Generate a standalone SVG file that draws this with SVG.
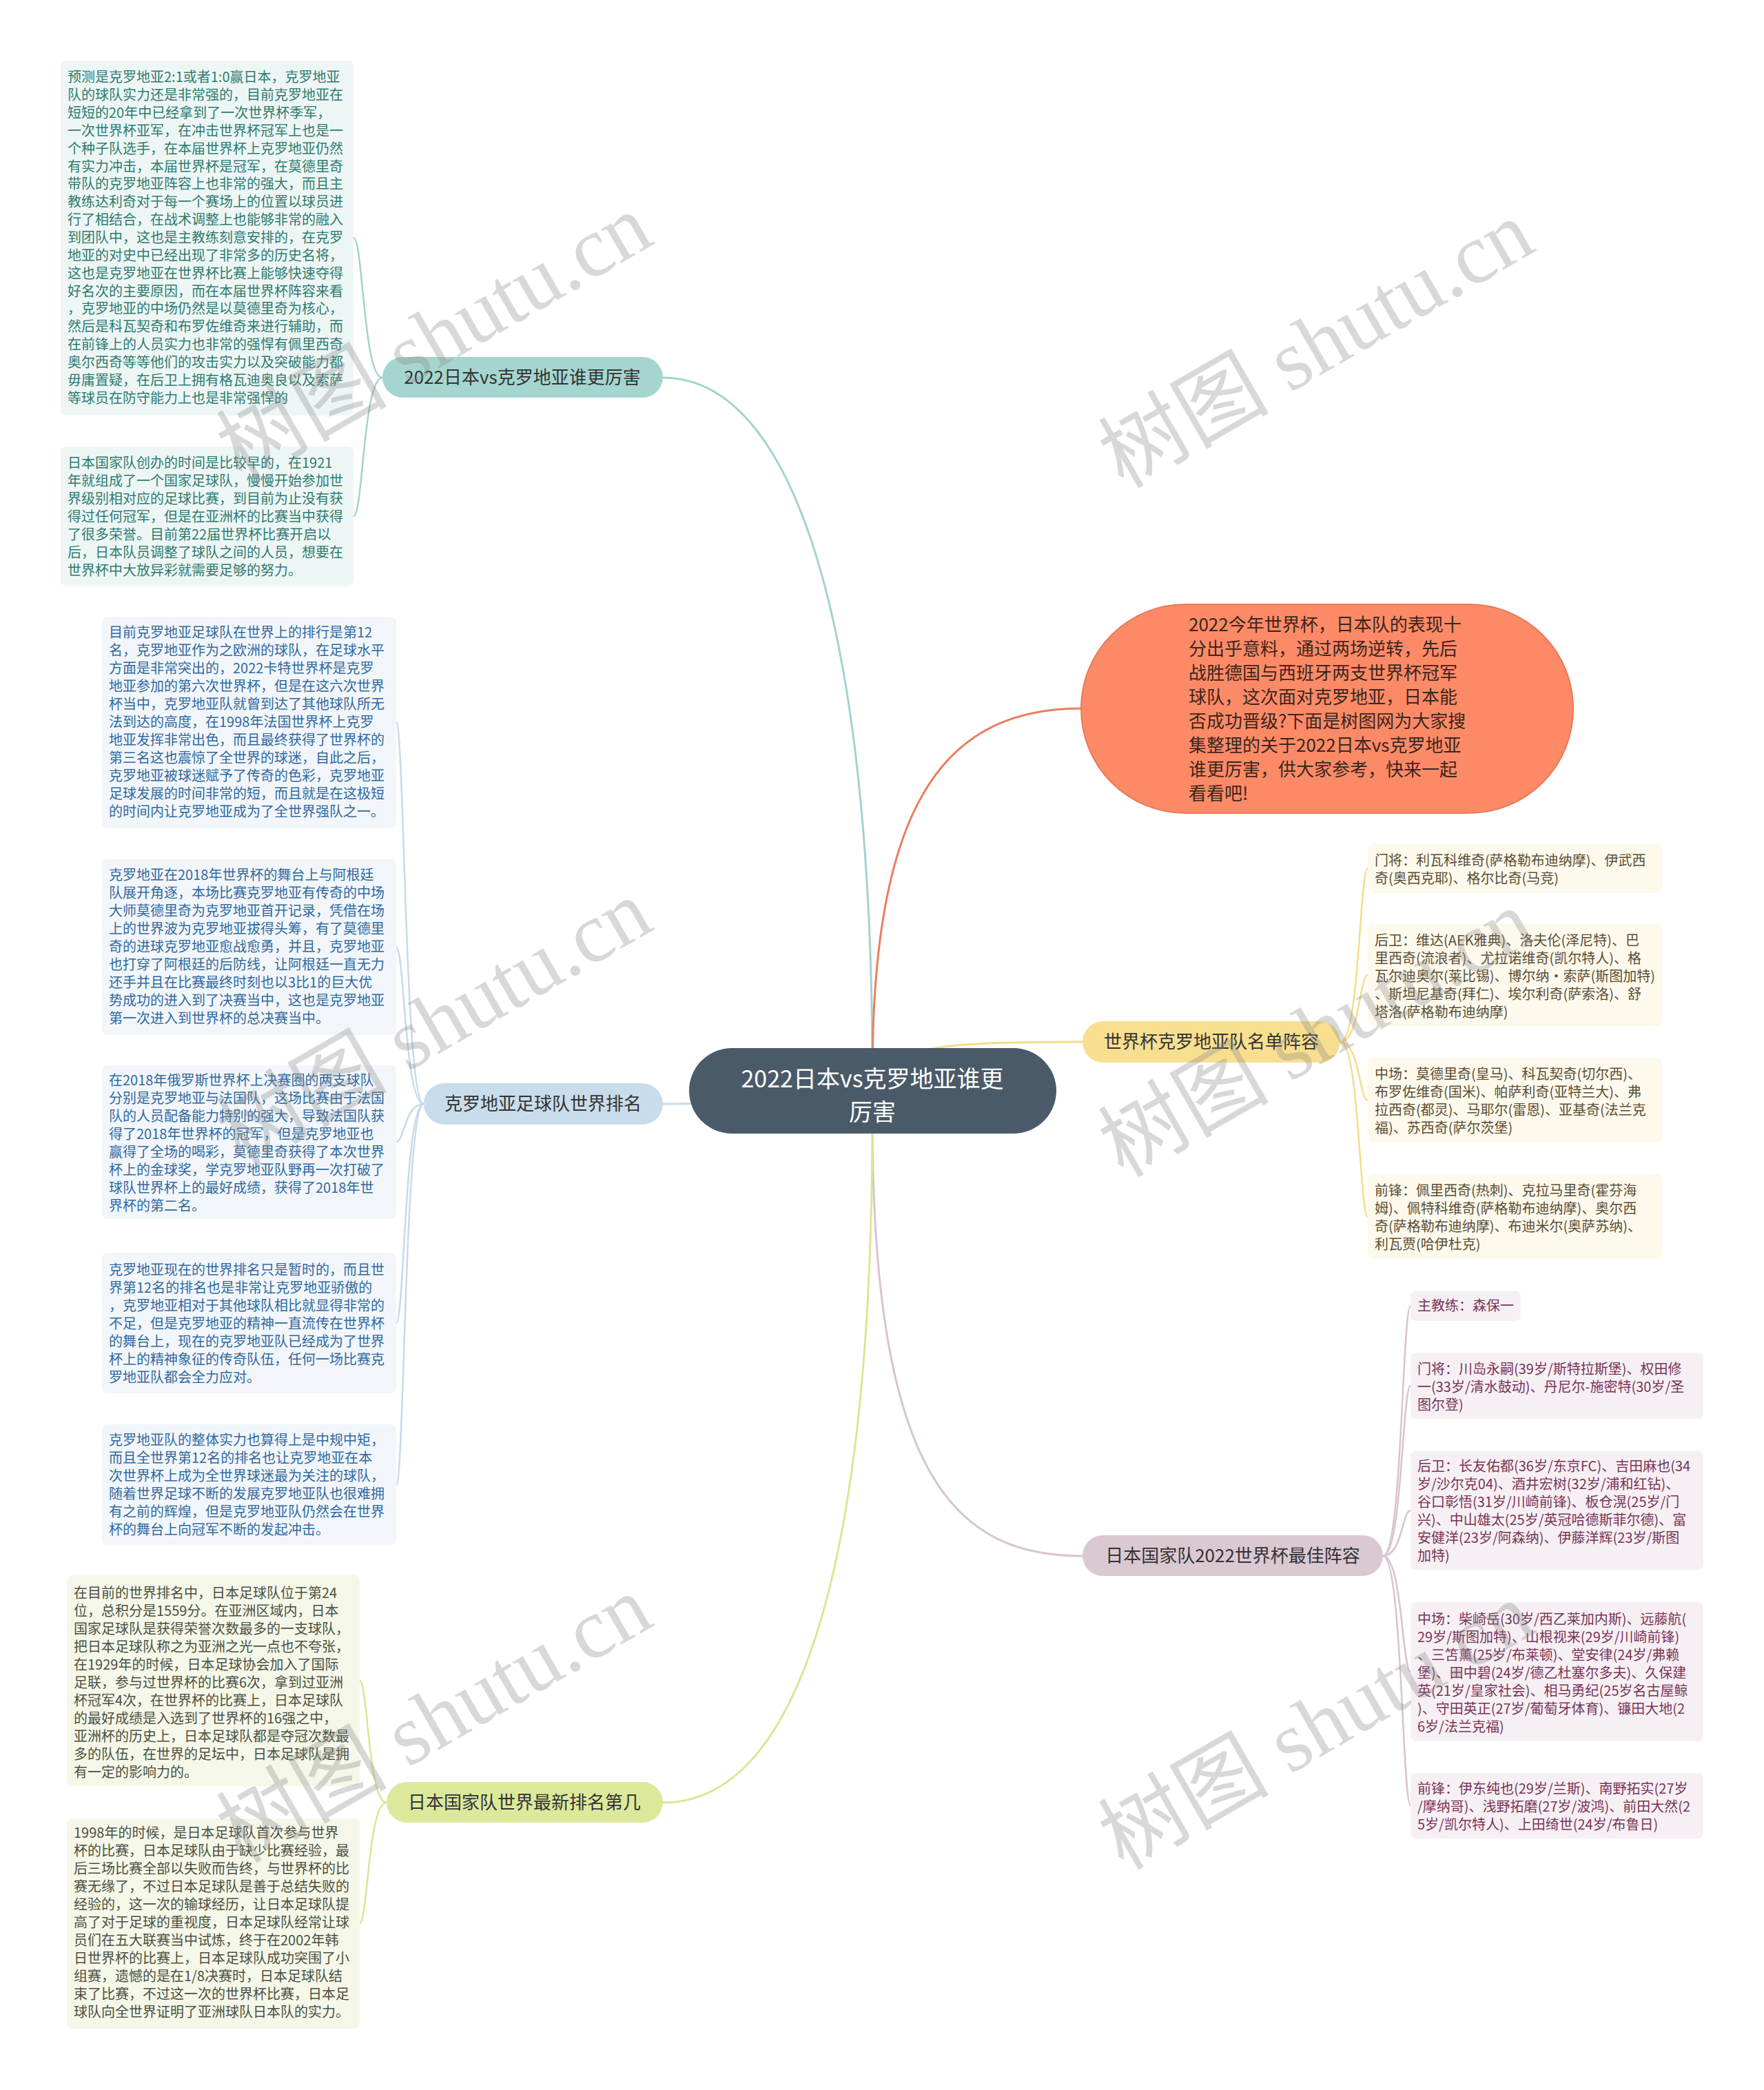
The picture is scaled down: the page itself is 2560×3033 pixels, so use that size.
<svg xmlns="http://www.w3.org/2000/svg" width="2560" height="3033" viewBox="0 0 2560 3033">
<style>
text{font-family:"Noto Sans CJK SC","Noto Sans",sans-serif;}
.lf{font-size:20px;}
.br{font-size:26px;fill:#333333;}
.c{fill:none;stroke-width:3;}
.lc{fill:none;stroke-width:2.5;}
.wm{font-size:124px;fill:#8a8a8a;opacity:0.33;font-family:"Liberation Serif","Noto Sans CJK SC",serif;}
</style>
<rect width="2560" height="3033" fill="#ffffff"/>
<g id="connectors">
<path class="c" stroke="#a3d3cd" d="M1266 1560 C1266 900,1150 548,962 548"/>
<path class="c" stroke="#ea7d5e" d="M1266 1560 C1266 1150,1380 1028,1571 1028"/>
<path class="c" stroke="#f5dc8c" d="M1266 1560 C1300 1516,1400 1512,1571 1512"/>
<path class="c" stroke="#c6daeb" d="M1266 1600 C1100 1600,1100 1602,962 1602"/>
<path class="c" stroke="#d7c4cf" d="M1266 1620 C1266 2150,1390 2258,1571 2258"/>
<path class="c" stroke="#d9e795" d="M1266 1620 C1266 2300,1150 2616,962 2616"/>
<path class="lc" stroke="#a3d3cd" d="M555 548 C527 548,527 345,513 345"/>
<path class="lc" stroke="#a3d3cd" d="M555 548 C527 548,527 749,513 749"/>
<path class="lc" stroke="#c6daeb" d="M615 1602 C587 1602,587 1048,575 1048"/>
<path class="lc" stroke="#c6daeb" d="M615 1602 C587 1602,587 1374,575 1374"/>
<path class="lc" stroke="#c6daeb" d="M615 1602 C587 1602,587 1657,575 1657"/>
<path class="lc" stroke="#c6daeb" d="M615 1602 C587 1602,587 1920,575 1920"/>
<path class="lc" stroke="#c6daeb" d="M615 1602 C587 1602,587 2155,575 2155"/>
<path class="lc" stroke="#d9e795" d="M561 2616 C534 2616,534 2439,522 2439"/>
<path class="lc" stroke="#d9e795" d="M561 2616 C534 2616,534 2791,522 2791"/>
<path class="lc" stroke="#f5dc8c" d="M1945 1512 C1973 1512,1973 1260,1985 1260"/>
<path class="lc" stroke="#f5dc8c" d="M1945 1512 C1973 1512,1973 1415,1985 1415"/>
<path class="lc" stroke="#f5dc8c" d="M1945 1512 C1973 1512,1973 1597,1985 1597"/>
<path class="lc" stroke="#f5dc8c" d="M1945 1512 C1973 1512,1973 1766,1985 1766"/>
<path class="lc" stroke="#d7c4cf" d="M2007 2258 C2035 2258,2035 1895,2047 1895"/>
<path class="lc" stroke="#d7c4cf" d="M2007 2258 C2035 2258,2035 2011,2047 2011"/>
<path class="lc" stroke="#d7c4cf" d="M2007 2258 C2035 2258,2035 2192,2047 2192"/>
<path class="lc" stroke="#d7c4cf" d="M2007 2258 C2035 2258,2035 2426,2047 2426"/>
<path class="lc" stroke="#d7c4cf" d="M2007 2258 C2035 2258,2035 2620,2047 2620"/>
</g>

<g id="root">
<rect x="1000" y="1521" width="533" height="124" rx="62" fill="#4a5a68"/>
<text x="1266" y="1578" font-size="34" fill="#ffffff" text-anchor="middle">2022日本vs克罗地亚谁更</text>
<text x="1266" y="1626" font-size="34" fill="#ffffff" text-anchor="middle">厉害</text>
</g>

<g id="intro">
<rect x="1569" y="877" width="714" height="303" rx="151" fill="#fc8a67" stroke="#e9795a" stroke-width="2"/>
<text font-size="26" fill="#3a261c">
<tspan x="1725" y="916">2022今年世界杯，日本队的表现十</tspan>
<tspan x="1725" y="951">分出乎意料，通过两场逆转，先后</tspan>
<tspan x="1725" y="986">战胜德国与西班牙两支世界杯冠军</tspan>
<tspan x="1725" y="1021">球队，这次面对克罗地亚，日本能</tspan>
<tspan x="1725" y="1056">否成功晋级?下面是树图网为大家搜</tspan>
<tspan x="1725" y="1091">集整理的关于2022日本vs克罗地亚</tspan>
<tspan x="1725" y="1126">谁更厉害，供大家参考，快来一起</tspan>
<tspan x="1725" y="1161">看看吧!</tspan>
</text>
</g>

<g id="b-teal">
<rect x="555" y="518" width="407" height="59" rx="29.5" fill="#a5d5cf"/>
<text class="br" x="758" y="557" text-anchor="middle">2022日本vs克罗地亚谁更厉害</text>
</g>
<g id="b-blue">
<rect x="615" y="1572" width="347" height="60" rx="30" fill="#c9dcec"/>
<text class="br" x="788" y="1611" text-anchor="middle">克罗地亚足球队世界排名</text>
</g>
<g id="b-green">
<rect x="561" y="2586" width="401" height="59" rx="29.5" fill="#dce99b"/>
<text class="br" x="761" y="2625" text-anchor="middle">日本国家队世界最新排名第几</text>
</g>
<g id="b-yellow">
<rect x="1571" y="1482" width="374" height="60" rx="30" fill="#f8df8f"/>
<text class="br" x="1758" y="1521" text-anchor="middle">世界杯克罗地亚队名单阵容</text>
</g>
<g id="b-pink">
<rect x="1571" y="2228" width="436" height="59" rx="29.5" fill="#dac8d2"/>
<text class="br" x="1789" y="2267" text-anchor="middle">日本国家队2022世界杯最佳阵容</text>
</g>

<g id="leaf-a">
<rect x="88" y="88" width="425" height="515" rx="8" fill="#eef6f5"/>
<text class="lf" fill="#2d7b6f">
<tspan x="98" y="119">预测是克罗地亚2:1或者1:0赢日本，克罗地亚</tspan>
<tspan x="98" y="145">队的球队实力还是非常强的，目前克罗地亚在</tspan>
<tspan x="98" y="171">短短的20年中已经拿到了一次世界杯季军，</tspan>
<tspan x="98" y="197">一次世界杯亚军，在冲击世界杯冠军上也是一</tspan>
<tspan x="98" y="223">个种子队选手，在本届世界杯上克罗地亚仍然</tspan>
<tspan x="98" y="249">有实力冲击，本届世界杯是冠军，在莫德里奇</tspan>
<tspan x="98" y="274">带队的克罗地亚阵容上也非常的强大，而且主</tspan>
<tspan x="98" y="300">教练达利奇对于每一个赛场上的位置以球员进</tspan>
<tspan x="98" y="326">行了相结合，在战术调整上也能够非常的融入</tspan>
<tspan x="98" y="352">到团队中，这也是主教练刻意安排的，在克罗</tspan>
<tspan x="98" y="378">地亚的对史中已经出现了非常多的历史名将，</tspan>
<tspan x="98" y="404">这也是克罗地亚在世界杯比赛上能够快速夺得</tspan>
<tspan x="98" y="430">好名次的主要原因，而在本届世界杯阵容来看</tspan>
<tspan x="98" y="455">，克罗地亚的中场仍然是以莫德里奇为核心，</tspan>
<tspan x="98" y="481">然后是科瓦契奇和布罗佐维奇来进行辅助，而</tspan>
<tspan x="98" y="507">在前锋上的人员实力也非常的强悍有佩里西奇</tspan>
<tspan x="98" y="533">奥尔西奇等等他们的攻击实力以及突破能力都</tspan>
<tspan x="98" y="559">毋庸置疑，在后卫上拥有格瓦迪奥良以及索萨</tspan>
<tspan x="98" y="585">等球员在防守能力上也是非常强悍的</tspan>
</text>
</g>
<g id="leaf-b">
<rect x="88" y="648" width="425" height="202" rx="8" fill="#eef6f5"/>
<text class="lf" fill="#2d7b6f">
<tspan x="98" y="679">日本国家队创办的时间是比较早的，在1921</tspan>
<tspan x="98" y="705">年就组成了一个国家足球队，慢慢开始参加世</tspan>
<tspan x="98" y="731">界级别相对应的足球比赛，到目前为止没有获</tspan>
<tspan x="98" y="757">得过任何冠军，但是在亚洲杯的比赛当中获得</tspan>
<tspan x="98" y="783">了很多荣誉。目前第22届世界杯比赛开启以</tspan>
<tspan x="98" y="809">后，日本队员调整了球队之间的人员，想要在</tspan>
<tspan x="98" y="835">世界杯中大放异彩就需要足够的努力。</tspan>
</text>
</g>

<g id="leaf-c">
<rect x="148" y="895" width="427" height="307" rx="8" fill="#f2f6fa"/>
<text class="lf" fill="#2f69a1">
<tspan x="158" y="925">目前克罗地亚足球队在世界上的排行是第12</tspan>
<tspan x="158" y="951">名，克罗地亚作为之欧洲的球队，在足球水平</tspan>
<tspan x="158" y="977">方面是非常突出的，2022卡特世界杯是克罗</tspan>
<tspan x="158" y="1003">地亚参加的第六次世界杯，但是在这六次世界</tspan>
<tspan x="158" y="1029">杯当中，克罗地亚队就曾到达了其他球队所无</tspan>
<tspan x="158" y="1055">法到达的高度，在1998年法国世界杯上克罗</tspan>
<tspan x="158" y="1081">地亚发挥非常出色，而且最终获得了世界杯的</tspan>
<tspan x="158" y="1107">第三名这也震惊了全世界的球迷，自此之后，</tspan>
<tspan x="158" y="1133">克罗地亚被球迷赋予了传奇的色彩，克罗地亚</tspan>
<tspan x="158" y="1159">足球发展的时间非常的短，而且就是在这极短</tspan>
<tspan x="158" y="1185">的时间内让克罗地亚成为了全世界强队之一。</tspan>
</text>
</g>
<g id="leaf-d">
<rect x="148" y="1247" width="427" height="255" rx="8" fill="#f2f6fa"/>
<text class="lf" fill="#2f69a1">
<tspan x="158" y="1277">克罗地亚在2018年世界杯的舞台上与阿根廷</tspan>
<tspan x="158" y="1303">队展开角逐，本场比赛克罗地亚有传奇的中场</tspan>
<tspan x="158" y="1329">大师莫德里奇为克罗地亚首开记录，凭借在场</tspan>
<tspan x="158" y="1355">上的世界波为克罗地亚拔得头筹，有了莫德里</tspan>
<tspan x="158" y="1381">奇的进球克罗地亚愈战愈勇，并且，克罗地亚</tspan>
<tspan x="158" y="1407">也打穿了阿根廷的后防线，让阿根廷一直无力</tspan>
<tspan x="158" y="1433">还手并且在比赛最终时刻也以3比1的巨大优</tspan>
<tspan x="158" y="1459">势成功的进入到了决赛当中，这也是克罗地亚</tspan>
<tspan x="158" y="1485">第一次进入到世界杯的总决赛当中。</tspan>
</text>
</g>
<g id="leaf-e">
<rect x="148" y="1546" width="427" height="223" rx="8" fill="#f2f6fa"/>
<text class="lf" fill="#2f69a1">
<tspan x="158" y="1575">在2018年俄罗斯世界杯上决赛圈的两支球队</tspan>
<tspan x="158" y="1601">分别是克罗地亚与法国队，这场比赛由于法国</tspan>
<tspan x="158" y="1627">队的人员配备能力特别的强大，导致法国队获</tspan>
<tspan x="158" y="1653">得了2018年世界杯的冠军，但是克罗地亚也</tspan>
<tspan x="158" y="1679">赢得了全场的喝彩，莫德里奇获得了本次世界</tspan>
<tspan x="158" y="1705">杯上的金球奖，学克罗地亚队野再一次打破了</tspan>
<tspan x="158" y="1731">球队世界杯上的最好成绩，获得了2018年世</tspan>
<tspan x="158" y="1757">界杯的第二名。</tspan>
</text>
</g>
<g id="leaf-f">
<rect x="148" y="1818" width="427" height="204" rx="8" fill="#f2f6fa"/>
<text class="lf" fill="#2f69a1">
<tspan x="158" y="1850">克罗地亚现在的世界排名只是暂时的，而且世</tspan>
<tspan x="158" y="1876">界第12名的排名也是非常让克罗地亚骄傲的</tspan>
<tspan x="158" y="1902">，克罗地亚相对于其他球队相比就显得非常的</tspan>
<tspan x="158" y="1928">不足，但是克罗地亚的精神一直流传在世界杯</tspan>
<tspan x="158" y="1954">的舞台上，现在的克罗地亚队已经成为了世界</tspan>
<tspan x="158" y="1980">杯上的精神象征的传奇队伍，任何一场比赛克</tspan>
<tspan x="158" y="2006">罗地亚队都会全力应对。</tspan>
</text>
</g>
<g id="leaf-g">
<rect x="148" y="2067" width="427" height="175" rx="8" fill="#f2f6fa"/>
<text class="lf" fill="#2f69a1">
<tspan x="158" y="2097">克罗地亚队的整体实力也算得上是中规中矩，</tspan>
<tspan x="158" y="2123">而且全世界第12名的排名也让克罗地亚在本</tspan>
<tspan x="158" y="2149">次世界杯上成为全世界球迷最为关注的球队，</tspan>
<tspan x="158" y="2175">随着世界足球不断的发展克罗地亚队也很难拥</tspan>
<tspan x="158" y="2201">有之前的辉煌，但是克罗地亚队仍然会在世界</tspan>
<tspan x="158" y="2227">杯的舞台上向冠军不断的发起冲击。</tspan>
</text>
</g>

<g id="leaf-h">
<rect x="97" y="2286" width="425" height="306" rx="8" fill="#f5f7e9"/>
<text class="lf" fill="#4b5040">
<tspan x="107" y="2319">在目前的世界排名中，日本足球队位于第24</tspan>
<tspan x="107" y="2345">位，总积分是1559分。在亚洲区域内，日本</tspan>
<tspan x="107" y="2371">国家足球队是获得荣誉次数最多的一支球队，</tspan>
<tspan x="107" y="2397">把日本足球队称之为亚洲之光一点也不夸张，</tspan>
<tspan x="107" y="2423">在1929年的时候，日本足球协会加入了国际</tspan>
<tspan x="107" y="2449">足联，参与过世界杯的比赛6次，拿到过亚洲</tspan>
<tspan x="107" y="2475">杯冠军4次，在世界杯的比赛上，日本足球队</tspan>
<tspan x="107" y="2501">的最好成绩是入选到了世界杯的16强之中，</tspan>
<tspan x="107" y="2527">亚洲杯的历史上，日本足球队都是夺冠次数最</tspan>
<tspan x="107" y="2553">多的队伍，在世界的足坛中，日本足球队是拥</tspan>
<tspan x="107" y="2579">有一定的影响力的。</tspan>
</text>
</g>
<g id="leaf-i">
<rect x="97" y="2639" width="425" height="305" rx="8" fill="#f5f7e9"/>
<text class="lf" fill="#4b5040">
<tspan x="107" y="2667">1998年的时候，是日本足球队首次参与世界</tspan>
<tspan x="107" y="2693">杯的比赛，日本足球队由于缺少比赛经验，最</tspan>
<tspan x="107" y="2719">后三场比赛全部以失败而告终，与世界杯的比</tspan>
<tspan x="107" y="2745">赛无缘了，不过日本足球队是善于总结失败的</tspan>
<tspan x="107" y="2771">经验的，这一次的输球经历，让日本足球队提</tspan>
<tspan x="107" y="2797">高了对于足球的重视度，日本足球队经常让球</tspan>
<tspan x="107" y="2823">员们在五大联赛当中试炼，终于在2002年韩</tspan>
<tspan x="107" y="2849">日世界杯的比赛上，日本足球队成功突围了小</tspan>
<tspan x="107" y="2875">组赛，遗憾的是在1/8决赛时，日本足球队结</tspan>
<tspan x="107" y="2901">束了比赛，不过这一次的世界杯比赛，日本足</tspan>
<tspan x="107" y="2927">球队向全世界证明了亚洲球队日本队的实力。</tspan>
</text>
</g>

<g id="leaf-j">
<rect x="1985" y="1224" width="427" height="72" rx="8" fill="#fdf9ec"/>
<text class="lf" fill="#5a4d35">
<tspan x="1995" y="1256">门将：利瓦科维奇(萨格勒布迪纳摩)、伊武西</tspan>
<tspan x="1995" y="1282">奇(奥西克耶)、格尔比奇(马竞)</tspan>
</text>
</g>
<g id="leaf-k">
<rect x="1985" y="1341" width="427" height="148" rx="8" fill="#fdf9ec"/>
<text class="lf" fill="#5a4d35">
<tspan x="1995" y="1372">后卫：维达(AEK雅典)、洛夫伦(泽尼特)、巴</tspan>
<tspan x="1995" y="1398">里西奇(流浪者)、尤拉诺维奇(凯尔特人)、格</tspan>
<tspan x="1995" y="1424">瓦尔迪奥尔(莱比锡)、博尔纳·索萨(斯图加特)</tspan>
<tspan x="1995" y="1450">、斯坦尼基奇(拜仁)、埃尔利奇(萨索洛)、舒</tspan>
<tspan x="1995" y="1476">塔洛(萨格勒布迪纳摩)</tspan>
</text>
</g>
<g id="leaf-l">
<rect x="1985" y="1535" width="427" height="123" rx="8" fill="#fdf9ec"/>
<text class="lf" fill="#5a4d35">
<tspan x="1995" y="1566">中场：莫德里奇(皇马)、科瓦契奇(切尔西)、</tspan>
<tspan x="1995" y="1592">布罗佐维奇(国米)、帕萨利奇(亚特兰大)、弗</tspan>
<tspan x="1995" y="1618">拉西奇(都灵)、马耶尔(雷恩)、亚基奇(法兰克</tspan>
<tspan x="1995" y="1644">福)、苏西奇(萨尔茨堡)</tspan>
</text>
</g>
<g id="leaf-m">
<rect x="1985" y="1704" width="427" height="123" rx="8" fill="#fdf9ec"/>
<text class="lf" fill="#5a4d35">
<tspan x="1995" y="1735">前锋：佩里西奇(热刺)、克拉马里奇(霍芬海</tspan>
<tspan x="1995" y="1761">姆)、佩特科维奇(萨格勒布迪纳摩)、奥尔西</tspan>
<tspan x="1995" y="1787">奇(萨格勒布迪纳摩)、布迪米尔(奥萨苏纳)、</tspan>
<tspan x="1995" y="1813">利瓦贾(哈伊杜克)</tspan>
</text>
</g>

<g id="leaf-n">
<rect x="2047" y="1873" width="160" height="44" rx="8" fill="#f6f0f4"/>
<text class="lf" fill="#7a3356" x="2057" y="1902">主教练：森保一</text>
</g>
<g id="leaf-o">
<rect x="2047" y="1963" width="425" height="96" rx="8" fill="#f6f0f4"/>
<text class="lf" fill="#7a3356">
<tspan x="2057" y="1994">门将：川岛永嗣(39岁/斯特拉斯堡)、权田修</tspan>
<tspan x="2057" y="2020">一(33岁/清水鼓动)、丹尼尔-施密特(30岁/圣</tspan>
<tspan x="2057" y="2046">图尔登)</tspan>
</text>
</g>
<g id="leaf-p">
<rect x="2047" y="2105" width="425" height="173" rx="8" fill="#f6f0f4"/>
<text class="lf" fill="#7a3356">
<tspan x="2057" y="2135">后卫：长友佑都(36岁/东京FC)、吉田麻也(34</tspan>
<tspan x="2057" y="2161">岁/沙尔克04)、酒井宏树(32岁/浦和红钻)、</tspan>
<tspan x="2057" y="2187">谷口彰悟(31岁/川崎前锋)、板仓滉(25岁/门</tspan>
<tspan x="2057" y="2213">兴)、中山雄太(25岁/英冠哈德斯菲尔德)、富</tspan>
<tspan x="2057" y="2239">安健洋(23岁/阿森纳)、伊藤洋辉(23岁/斯图</tspan>
<tspan x="2057" y="2265">加特)</tspan>
</text>
</g>
<g id="leaf-q">
<rect x="2047" y="2325" width="425" height="202" rx="8" fill="#f6f0f4"/>
<text class="lf" fill="#7a3356">
<tspan x="2057" y="2357">中场：柴崎岳(30岁/西乙莱加内斯)、远藤航(</tspan>
<tspan x="2057" y="2383">29岁/斯图加特)、山根视来(29岁/川崎前锋)</tspan>
<tspan x="2057" y="2409">、三笘薰(25岁/布莱顿)、堂安律(24岁/弗赖</tspan>
<tspan x="2057" y="2435">堡)、田中碧(24岁/德乙杜塞尔多夫)、久保建</tspan>
<tspan x="2057" y="2461">英(21岁/皇家社会)、相马勇纪(25岁名古屋鲸</tspan>
<tspan x="2057" y="2487">)、守田英正(27岁/葡萄牙体育)、镰田大地(2</tspan>
<tspan x="2057" y="2513">6岁/法兰克福)</tspan>
</text>
</g>
<g id="leaf-r">
<rect x="2047" y="2573" width="425" height="95" rx="8" fill="#f6f0f4"/>
<text class="lf" fill="#7a3356">
<tspan x="2057" y="2603">前锋：伊东纯也(29岁/兰斯)、南野拓实(27岁</tspan>
<tspan x="2057" y="2629">/摩纳哥)、浅野拓磨(27岁/波鸿)、前田大然(2</tspan>
<tspan x="2057" y="2655">5岁/凯尔特人)、上田绮世(24岁/布鲁日)</tspan>
</text>
</g>

<g id="watermarks">
<text class="wm" transform="translate(350 700) rotate(-30)">树图 shutu.cn</text>
<text class="wm" transform="translate(1630 710) rotate(-30)">树图 shutu.cn</text>
<text class="wm" transform="translate(350 1695) rotate(-30)">树图 shutu.cn</text>
<text class="wm" transform="translate(1630 1710) rotate(-30)">树图 shutu.cn</text>
<text class="wm" transform="translate(350 2705) rotate(-30)">树图 shutu.cn</text>
<text class="wm" transform="translate(1630 2715) rotate(-30)">树图 shutu.cn</text>
</g>
</svg>
